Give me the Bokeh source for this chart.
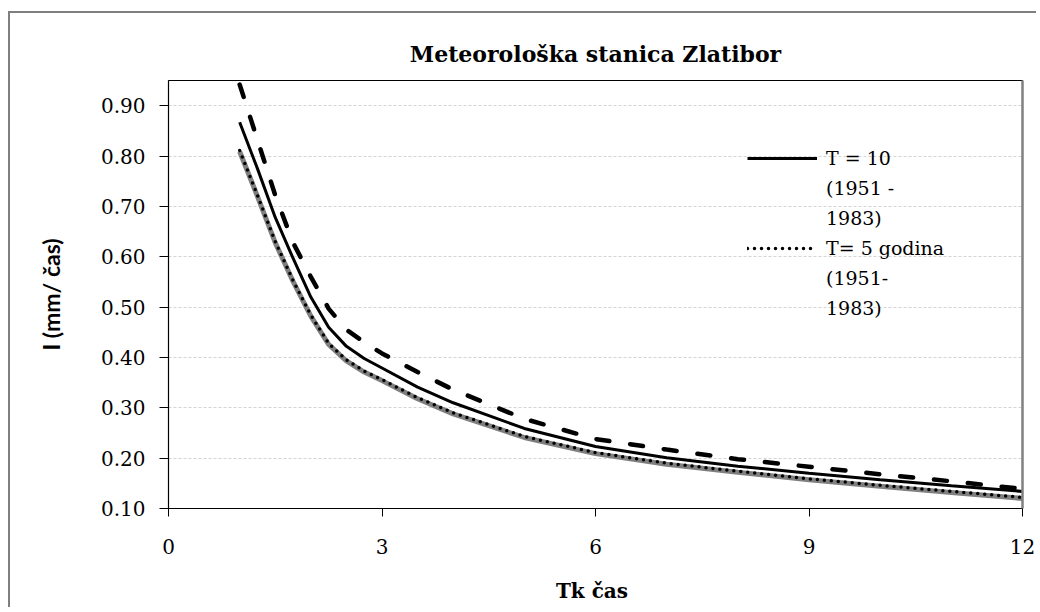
from bokeh.plotting import figure
from bokeh.models import (Range1d, FixedTicker, NumeralTickFormatter, Legend, LegendItem,
                          LinearAxis, Title)
from bokeh.embed import file_html
from bokeh.resources import INLINE

# ---- data ----
tk = [1.0, 1.25, 1.5, 1.75, 2.0, 2.25, 2.5, 2.75, 3.0, 3.5, 4.0, 5.0, 6.0, 7.0, 8.0, 9.0, 10.0, 11.0, 12.0]
t10_a = [0.867, 0.775, 0.678, 0.597, 0.520, 0.460, 0.422, 0.398, 0.379, 0.341, 0.310, 0.259, 0.223,
         0.201, 0.184, 0.170, 0.157, 0.145, 0.134]
t5_a = [0.811, 0.722, 0.630, 0.553, 0.484, 0.428, 0.395, 0.373, 0.356, 0.320, 0.290, 0.243, 0.211,
        0.190, 0.174, 0.159, 0.146, 0.134, 0.122]
t5_b = [0.809, 0.720, 0.628, 0.551, 0.482, 0.426, 0.393, 0.371, 0.354, 0.318, 0.288, 0.241, 0.209,
        0.188, 0.172, 0.157, 0.144, 0.132, 0.120]
t10_b = [0.942, 0.832, 0.722, 0.628, 0.560, 0.497, 0.455, 0.430, 0.408, 0.371, 0.336, 0.278, 0.238,
         0.217, 0.198, 0.183, 0.168, 0.154, 0.139]
x_ticks = [0, 3, 6, 9, 12]
y_ticks = [0.10, 0.20, 0.30, 0.40, 0.50, 0.60, 0.70, 0.80, 0.90]
title_text = "Meteorološka stanica Zlatibor"
x_label = "Tk  čas"
y_label = "I (mm/ čas)"
legend_lines_1 = ["T = 10", "(1951 -", "1983)"]
legend_lines_2 = ["T= 5 godina", "(1951-", "1983)"]

SERIF = "DejaVu Serif"

p = figure(width=1028, height=596, output_backend="svg", toolbar_location=None,
           x_range=Range1d(0, 12), y_range=Range1d(0.10, 0.95),
           min_border_left=158, min_border_right=16, min_border_top=67, min_border_bottom=101)
p.styles = {"border-left": "2px solid #7f7f7f", "border-top": "2px solid #7f7f7f",
            "margin-left": "8px", "margin-top": "11px"}
p.title = Title(text=title_text, align="center", text_font=SERIF, text_font_size="22px",
                text_font_style="bold", text_color="black", offset=0, standoff=28)

p.outline_line_color = "black"
p.outline_line_width = 1
p.background_fill_color = "white"
p.border_fill_color = "white"

p.xgrid.grid_line_color = None
p.ygrid.grid_line_color = "#d4d4d4"
p.ygrid.grid_line_dash = "3 2"
p.ygrid.grid_line_width = 1

for ax in (p.xaxis[0], p.yaxis[0]):
    ax.axis_line_color = "black"
    ax.axis_line_width = 1.2
    ax.major_tick_line_color = "black"
    ax.minor_tick_line_color = None
    ax.major_tick_in = 0
    ax.major_label_text_font = SERIF
    ax.major_label_text_font_size = "20px"
    ax.major_label_text_color = "black"

p.xaxis.ticker = FixedTicker(ticks=x_ticks)
p.xaxis.major_tick_out = 8
p.xaxis.major_label_standoff = 22
p.xaxis.axis_label = x_label
p.xaxis.axis_label_text_font = SERIF
p.xaxis.axis_label_text_font_style = "bold"
p.xaxis.axis_label_text_font_size = "20px"
p.xaxis.axis_label_standoff = 22
p.xaxis.axis_label_text_color = "black"

p.yaxis.ticker = FixedTicker(ticks=y_ticks)
p.yaxis.formatter = NumeralTickFormatter(format="0.00")
p.yaxis.major_tick_out = 9
p.yaxis.major_label_standoff = 14
p.yaxis.axis_label = y_label
p.yaxis.axis_label_text_font = "Lato"
p.yaxis.axis_label_text_font_style = "bold"
p.yaxis.axis_label_text_font_size = "23px"
p.yaxis.axis_label_standoff = 33
p.yaxis.axis_label_text_color = "black"

right_ax = LinearAxis(ticker=FixedTicker(ticks=[]), major_label_text_font_size="0px",
                      axis_line_color="#808080", axis_line_width=2.5,
                      major_tick_line_color=None, minor_tick_line_color=None)
p.add_layout(right_ax, "right")

# lines
p.line(tk, t10_b, line_color="black", line_width=4.5, line_dash="13 21", line_cap="round")
p.line(tk, t5_b, line_color="#7f7f7f", line_width=5)
r_dot = p.line(tk, t5_a, line_color="black", line_width=3.5, line_dash="0 7", line_cap="round")
r_sol = p.line(tk, t10_a, line_color="black", line_width=3)
r_blank = p.line(tk, t10_a, line_alpha=0)

items = [LegendItem(label=legend_lines_1[0], renderers=[r_sol]),
         LegendItem(label=legend_lines_1[1], renderers=[r_blank]),
         LegendItem(label=legend_lines_1[2], renderers=[r_blank]),
         LegendItem(label=legend_lines_2[0], renderers=[r_dot]),
         LegendItem(label=legend_lines_2[1], renderers=[r_blank]),
         LegendItem(label=legend_lines_2[2], renderers=[r_blank])]
legend = Legend(items=items, location=(579, 189), border_line_color=None, background_fill_alpha=0,
                label_text_font=SERIF, label_text_font_size="19px", label_text_color="black",
                glyph_width=70, glyph_height=20, label_height=20, label_standoff=9,
                spacing=8, padding=0, margin=0)
p.add_layout(legend, "center")

open("out.html", "w").write(file_html(p, INLINE))
